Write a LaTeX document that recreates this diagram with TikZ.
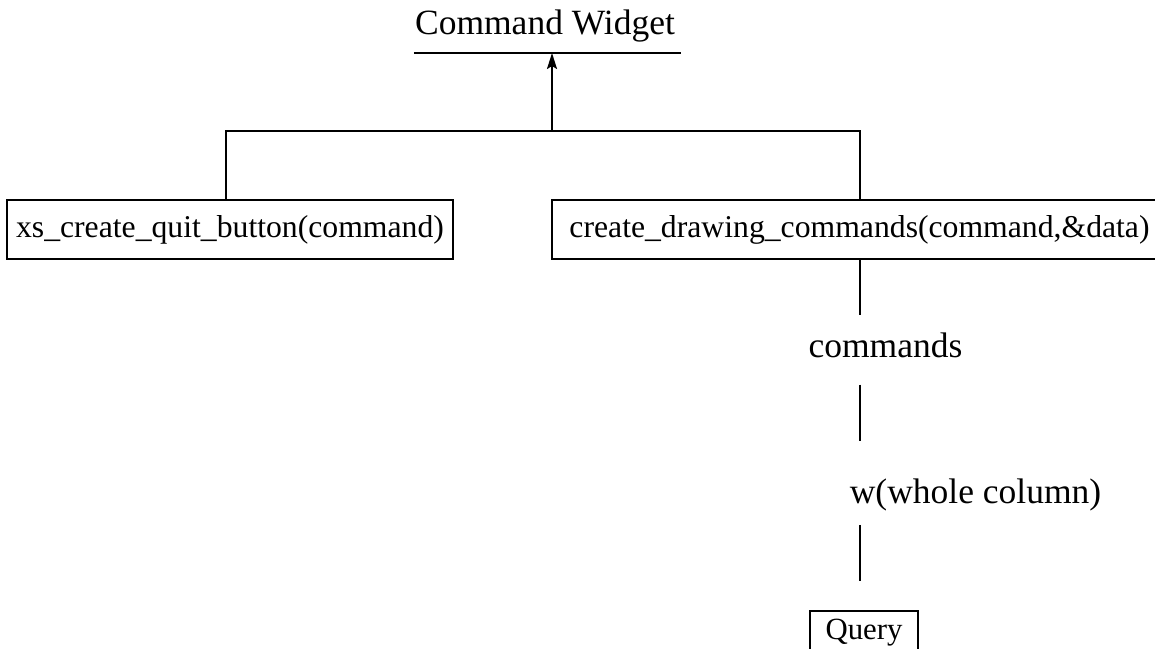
\documentclass[tikz,border=0pt]{standalone}
\usepackage{fontspec}
\setmainfont{Liberation Serif}
\usetikzlibrary{arrows.meta}
\tikzset{
  boxnode/.style={draw, line width=2pt, inner sep=0pt, font=\fontsize{31.7}{36}\selectfont, minimum height=59pt},
  plainlabel/.style={inner sep=0pt, font=\fontsize{35.5}{40}\selectfont, anchor=base},
  wire/.style={line width=2pt},
}
\begin{document}
\begin{tikzpicture}[x=1pt,y=-1pt]
\useasboundingbox (0,0) rectangle (1155,648);
% title
\node[plainlabel] (title) at (545,34) {Command Widget};
\node[inner sep=0pt, minimum width=267pt, minimum height=0pt] (uline) at (547.5,53) {};
\draw[wire] (uline.west) -- (uline.east);
% boxes
\node[boxnode, minimum width=446pt] (left) at (230,229.5) {xs\_create\_quit\_button(command)};
\node[boxnode, minimum width=615pt] (right) at (859.5,229.5) {create\_drawing\_commands(command,\&data)};
\coordinate (jn) at (552,131);
% tree connectors
\draw[wire] ([xshift=-4pt]left.north) -- ([xshift=-4pt]left.north |- jn) -- (right.north |- jn) -- (right.north);
\draw[wire, -{Stealth[length=16pt,width=10pt,inset=3pt]}] (jn) -- (jn |- uline.center);
% chain
\node[plainlabel] (cmd) at (885.5,357) {commands};
\node[plainlabel] (w) at (975.5,503) {w(whole column)};
\node[draw, line width=2pt, inner ysep=8pt, inner xsep=0pt, minimum width=108pt, anchor=north, font=\fontsize{30.8}{36}\selectfont] (query) at (864,610) {Query};
\draw[wire, shorten >=17pt] (right.south) -- (right.south |- cmd.north);
\draw[wire, shorten <=27pt, shorten >=37pt] (right.south |- cmd.south) -- (right.south |- w.north);
\draw[wire, shorten <=14pt, shorten >=29pt] (right.south |- w.south) -- (right.south |- query.north);
\end{tikzpicture}
\end{document}
